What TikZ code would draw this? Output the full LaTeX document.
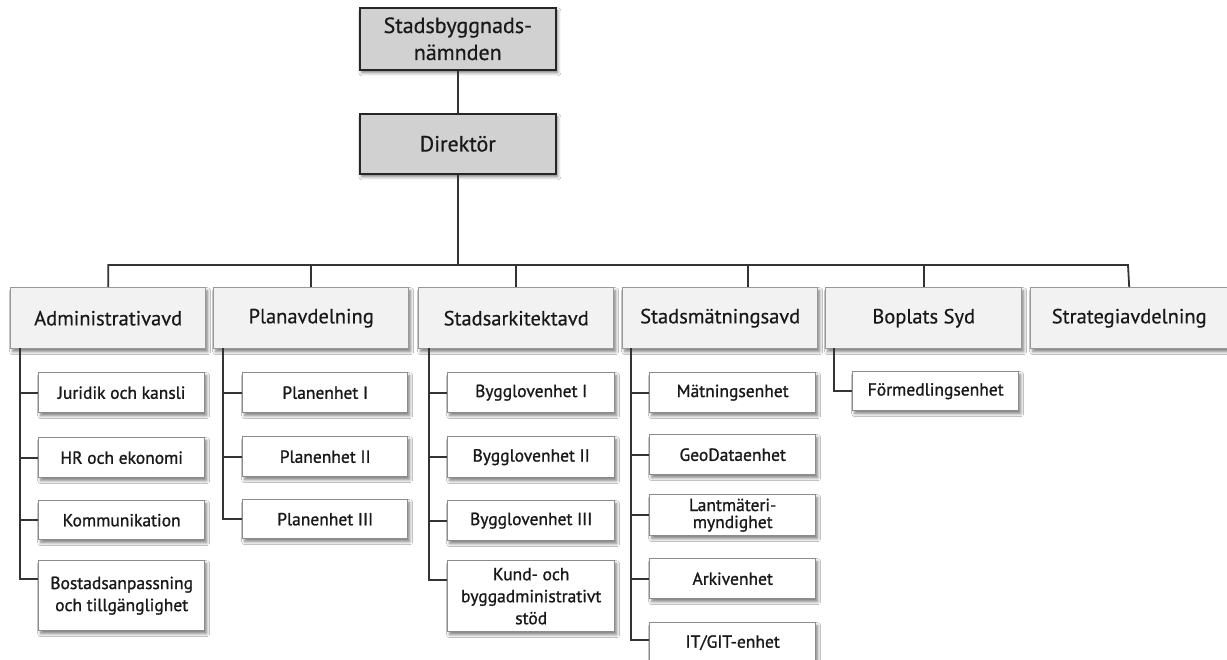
\documentclass[tikz,border=0pt]{standalone}
\usepackage{fontspec}
\setmainfont{PT Sans}
\newfontfamily\deptfont{PT Sans}[FakeBold=0.5]
\newfontfamily\subfont{PT Sans}[FakeBold=1.1]
\usetikzlibrary{shadows.blur,calc}
\begin{document}
\begin{tikzpicture}[x=1pt,y=-1pt,
  shad/.style={blur shadow={shadow xshift=2pt, shadow yshift=-3pt, shadow blur radius=3pt, shadow opacity=50}},
  topbox/.style={shad, draw=black!85, fill=black!18, line width=1.6pt, inner sep=0pt, anchor=north west, text=black!90, font=\deptfont\fontsize{22}{27}\selectfont, align=center},
  dept/.style={shad, draw=black!40, fill=black!5, line width=1.4pt, inner sep=0pt, anchor=north west, text=black!90, font=\deptfont\fontsize{20.5}{25}\selectfont, minimum height=61pt},
  sub/.style={shad, draw=black!45, fill=white, line width=1.4pt, inner sep=0pt, anchor=north west, text=black!90, font=\subfont\fontsize{17.5}{22}\selectfont, align=center},
  conn/.style={draw=black!80, line width=1.8pt}]
\useasboundingbox[fill=white] (0,0) rectangle (1227,660);

% top
\node[topbox, minimum width=196pt, minimum height=62pt] (nam) at (359,7) {Stadsbyggnads-\\nämnden};
\node[topbox, minimum width=196pt, minimum height=60pt] (dir) at (359,113) {Direktör};

% departments
\node[dept, minimum width=195pt] (adm) at (10,287) {Administrativavd};
\node[dept, minimum width=195pt] (pla) at (213,287) {Planavdelning};
\node[dept, minimum width=195pt] (ark) at (418,287) {Stadsarkitektavd};
\node[dept, minimum width=195pt] (mat) at (622,287) {Stadsmätningsavd};
\node[dept, minimum width=196pt] (bop) at (825,287) {Boplats Syd};
\node[dept, minimum width=197pt] (str) at (1030,287) {Strategiavdelning};

% connectors top
\coordinate (busL) at (107,265);
\coordinate (busR) at (1128,265);
\coordinate (matS) at (748,265);
\draw[conn] (nam.south) -- (dir.north);
\draw[conn] (dir.south) -- (dir.south |- busL);
\draw[conn] (adm.north) |- (busR) -- (str.north);
\draw[conn] (pla.north) -- (pla.north |- busL);
\draw[conn] (ark.north) -- (ark.north |- busL);
\draw[conn] (matS) -- (matS |- mat.north);
\draw[conn] (bop.north) -- (bop.north |- busL);

% Administrativavd column
\node[sub, minimum width=166pt, minimum height=40pt] (jur) at (38,372) {Juridik och kansli};
\node[sub, minimum width=166pt, minimum height=40pt] (hr) at (38,437) {HR och ekonomi};
\node[sub, minimum width=166pt, minimum height=39pt] (kom) at (38,500) {Kommunikation};
\node[sub, minimum width=166pt, minimum height=70pt] (bos) at (38,560) {Bostadsanpassning\\och tillgänglighet};
\coordinate (admV) at (20,348);
\draw[conn] (admV) |- ($(bos.north west)+(0,19)$);
\draw[conn] (admV |- jur.west) -- (jur.west);
\draw[conn] (admV |- hr.west) -- (hr.west);
\draw[conn] (admV |- kom.west) -- (kom.west);

% Planavdelning column
\node[sub, minimum width=165pt, minimum height=40pt] (p1) at (242,372) {Planenhet I};
\node[sub, minimum width=165pt, minimum height=40pt] (p2) at (242,436) {Planenhet II};
\node[sub, minimum width=165pt, minimum height=39pt] (p3) at (242,499) {Planenhet III};
\coordinate (plaV) at (223,348);
\draw[conn] (plaV) |- (p3.west);
\draw[conn] (plaV |- p1.west) -- (p1.west);
\draw[conn] (plaV |- p2.west) -- (p2.west);

% Stadsarkitektavd column
\node[sub, minimum width=167pt, minimum height=40pt] (b1) at (447,372) {Bygglovenhet I};
\node[sub, minimum width=167pt, minimum height=41pt] (b2) at (447,436) {Bygglovenhet II};
\node[sub, minimum width=167pt, minimum height=40pt] (b3) at (447,500) {Bygglovenhet III};
\node[sub, minimum width=167pt, minimum height=71pt] (kun) at (447,560) {Kund- och\\byggadministrativt\\stöd};
\coordinate (arkV) at (429,348);
\draw[conn] (arkV) |- ($(kun.north west)+(0,20)$);
\draw[conn] (arkV |- b1.west) -- (b1.west);
\draw[conn] (arkV |- b2.west) -- (b2.west);
\draw[conn] (arkV |- b3.west) -- (b3.west);

% Stadsmätningsavd column
\node[sub, minimum width=166pt, minimum height=40pt] (m1) at (649,372) {Mätningsenhet};
\node[sub, minimum width=166pt, minimum height=40pt] (geo) at (649,434) {GeoDataenhet};
\node[sub, minimum width=166pt, minimum height=41pt, font=\subfont\fontsize{17.5}{17}\selectfont] (lan) at (649,494) {Lantmäteri-\\myndighet};
\node[sub, minimum width=166pt, minimum height=40pt] (arv) at (649,558) {Arkivenhet};
\node[sub, minimum width=166pt, minimum height=40pt] (it) at (649,622) {IT/GIT-enhet};
\coordinate (matV) at (631,348);
\draw[conn] (matV) |- ($(it.north west)+(0,18)$);
\draw[conn] (matV |- m1.west) -- (m1.west);
\draw[conn] (matV |- geo.west) -- (geo.west);
\draw[conn] (matV |- lan.west) -- (lan.west);
\draw[conn] (matV |- arv.west) -- (arv.west);

% Boplats Syd
\node[sub, minimum width=166pt, minimum height=39pt] (frm) at (852,371) {Förmedlingsenhet};
\coordinate (bopV) at (834,348);
\draw[conn] (bopV) |- (frm.west);
\end{tikzpicture}
\end{document}
